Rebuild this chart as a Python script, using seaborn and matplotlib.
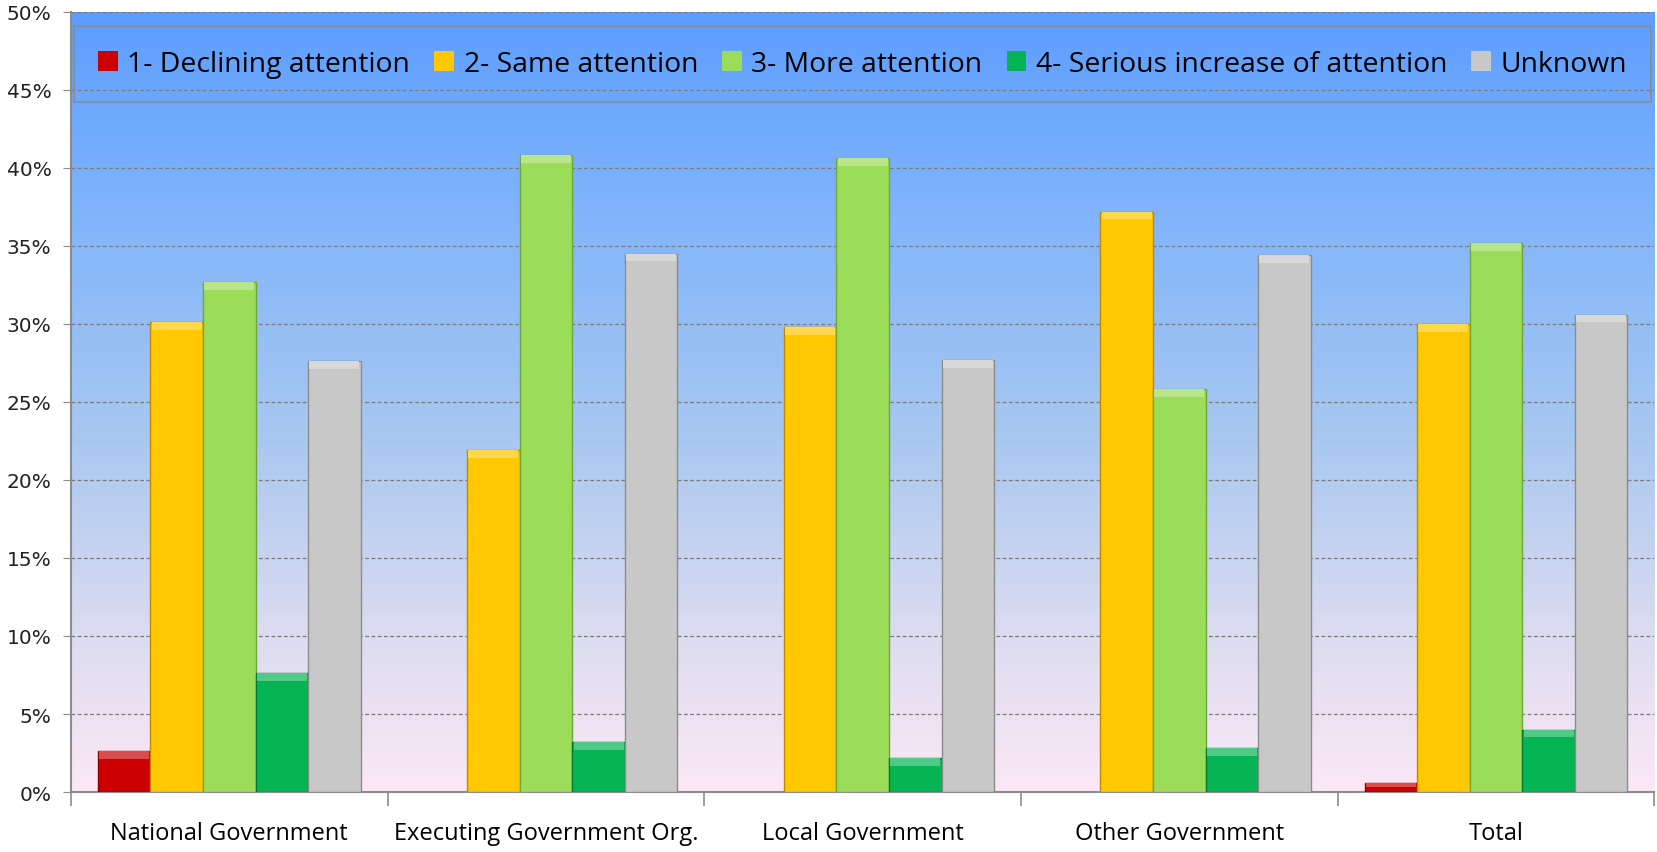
import numpy as np
import pandas as pd
import matplotlib
matplotlib.use("Agg")
from matplotlib import pyplot as plt
from matplotlib.colors import LinearSegmentedColormap, to_rgb
from matplotlib.patches import Rectangle
from matplotlib.ticker import FixedLocator, PercentFormatter
import seaborn as sns

categories = ["National Government", "Executing Government Org.", "Local Government",
              "Other Government", "Total"]
series = ["1- Declining attention", "2- Same attention", "3- More attention",
          "4- Serious increase of attention", "Unknown"]
declining = [2.6, 0.0, 0.0, 0.0, 0.6]
same = [30.1, 21.9, 29.8, 37.2, 30.0]
more = [32.7, 40.8, 40.6, 25.8, 35.2]
serious = [7.6, 3.2, 2.2, 2.8, 4.0]
unknown = [27.6, 34.5, 27.7, 34.4, 30.6]
colors = ["#cc0000", "#ffc800", "#9bdc58", "#05b553", "#c8c8c8"]
edges = ["#8a0000", "#c08a00", "#6fa83a", "#037a38", "#8c8c8c"]

rows = []
for s, vals in zip(series, [declining, same, more, serious, unknown]):
    for c, v in zip(categories, vals):
        rows.append({"category": c, "series": s, "value": v})
df = pd.DataFrame(rows)

fig = plt.figure(figsize=(16.58, 8.53), dpi=100)
ax = fig.add_axes([0.0428, 0.0703, 0.955, 0.9147])

# gradient background
grad = LinearSegmentedColormap.from_list(
    "bg", [(0.0, "#fce8f6"), (0.2, "#dcdcf0"), (0.45, "#a9c8f0"),
           (0.75, "#7fb4fb"), (1.0, "#5c9dff")])
ax.imshow(np.linspace(0, 1, 256).reshape(-1, 1), cmap=grad, origin="lower",
          extent=[0, 1, 0, 1], transform=ax.transAxes, aspect="auto", zorder=0)

sns.barplot(data=df, x="category", y="value", hue="series", order=categories,
            hue_order=series, palette=colors, width=0.83, gap=0, saturation=1,
            ax=ax, zorder=3)
for i, cont in enumerate(ax.containers):
    light = tuple(0.7 * np.array(to_rgb(colors[i])) + 0.3)
    for bar in cont:
        h = bar.get_height()
        bar.set_edgecolor(edges[i])
        bar.set_linewidth(1.0 if h > 0 else 0)
        if h > 0:
            # bevelled top cap
            cap = min(0.5, h * 0.45)
            ax.add_patch(Rectangle((bar.get_x() + 0.004, h - cap), bar.get_width() - 0.008,
                                   cap, facecolor=light, edgecolor="none", zorder=3.5))

ax.set_xlim(-0.5, 4.5)
ax.set_ylim(0, 50)
ax.set_xlabel("")
ax.set_ylabel("")
ax.yaxis.set_major_locator(FixedLocator(np.arange(0, 51, 5)))
ax.yaxis.set_major_formatter(PercentFormatter(decimals=0))
ax.grid(axis="y", color="#7a7a7a", linestyle=(0, (3, 2)), linewidth=0.9, zorder=1)
ax.set_axisbelow(True)
ax.tick_params(axis="y", labelsize=14.5, length=6, color="#8c8c8c", pad=8, labelcolor="#222222")
ax.tick_params(axis="x", which="major", length=0, pad=21, labelsize=17)
ax.xaxis.set_minor_locator(FixedLocator(np.arange(-0.5, 4.6, 1.0)))
ax.tick_params(axis="x", which="minor", length=10, color="#8c8c8c", width=1.2)
for lab in ax.get_xticklabels():
    lab.set_family(["Open Sans", "DejaVu Sans"])
for side in ["top", "right"]:
    ax.spines[side].set_visible(False)
for side in ["left", "bottom"]:
    ax.spines[side].set_color("#8c8c8c")
    ax.spines[side].set_linewidth(1.5)

handles, labels = ax.get_legend_handles_labels()
leg = ax.legend(handles, labels, ncol=5, loc="upper center",
                bbox_to_anchor=(0.5, 0.982), borderpad=0.85,
                frameon=True, fancybox=False, handlelength=0.7, handleheight=0.75,
                handletextpad=0.33, columnspacing=0.85, borderaxespad=0,
                prop={"family": ["Open Sans", "DejaVu Sans"], "size": 20.4})
leg.get_frame().set_edgecolor("#8c8c8c")
leg.get_frame().set_facecolor("none")
leg.get_frame().set_linewidth(1.5)

fig.savefig("out.png", dpi=100)
